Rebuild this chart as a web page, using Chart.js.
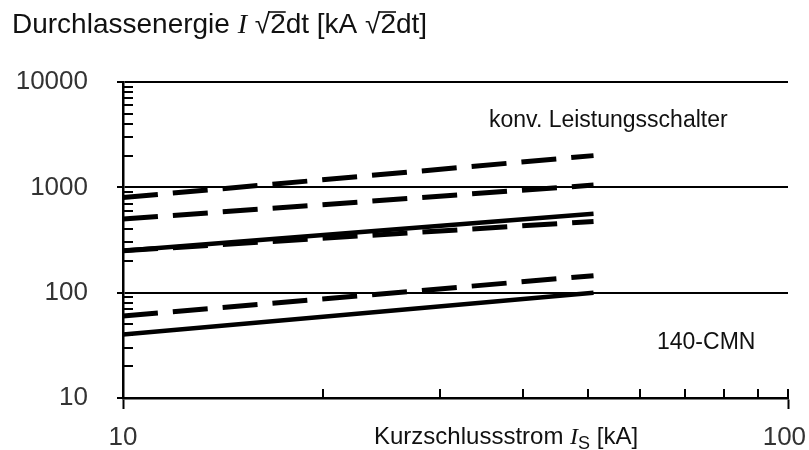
<!DOCTYPE html>
<html>
<head>
<meta charset="utf-8">
<script src="https://cdn.jsdelivr.net/npm/chart.js@4.4.1/dist/chart.umd.min.js"></script>
<style>
  html, body { margin: 0; padding: 0; background: #ffffff; }
  #wrap { width: 809px; height: 450px; position: relative; }
</style>
</head>
<body>
<div id="wrap"><canvas id="c" width="809" height="450"></canvas></div>
<script>
// ---- data ----
const currentKA   = [10, 51];          // Kurzschlussstrom I_S [kA]
const konvTop     = [800, 2000];       // konv. Leistungsschalter, dashed
const konvUpper   = [500, 1050];       // dashed
const konvSolid   = [250, 560];        // solid
const konvLower   = [250, 475];        // dashed
const cmnDashed   = [60, 145];         // 140-CMN, dashed
const cmnSolid    = [40, 100];         // 140-CMN, solid
const xMajorTicks = [10, 100];
const yMajorTicks = [10, 100, 1000, 10000];
const xMinorTicks = [20, 30, 40, 50, 60, 70, 80, 90, 100];
const yMinorTicks = [20, 30, 40, 50, 60, 70, 80, 90,
                     200, 300, 400, 500, 600, 700, 800, 900,
                     2000, 3000, 4000, 5000, 6000, 7000, 8000, 9000];
const titleText   = 'Durchlassenergie';
const xTitleText  = 'Kurzschlussstrom';
const noteKonv    = 'konv. Leistungsschalter';
const noteCmn     = '140-CMN';

const SANS = '"Liberation Sans", Arial, Helvetica, sans-serif';
const SERIF = '"Liberation Serif", "Times New Roman", serif';

function pts(ys) { return currentKA.map((x, i) => ({ x: x, y: ys[i] })); }

function lineDs(label, ys, dashed) {
  return {
    label: label,
    data: pts(ys),
    borderColor: '#000',
    backgroundColor: '#000',
    borderWidth: dashed ? 5 : 4.5,
    borderDash: dashed ? [35, 15] : [],
    borderCapStyle: 'butt',
    pointRadius: 0,
    pointHoverRadius: 0,
    fill: false,
    tension: 0
  };
}

function drawRich(ctx, parts, x, y) {
  let cx = x;
  parts.forEach(p => {
    ctx.font = p.font;
    const w = ctx.measureText(p.t).width;
    ctx.fillText(p.t, cx + (p.dx || 0), y + (p.dy || 0));
    if (p.over) {
      ctx.save();
      ctx.lineWidth = 1.6;
      ctx.strokeStyle = ctx.fillStyle;
      ctx.beginPath();
      ctx.moveTo(cx - 2, y - p.over);
      ctx.lineTo(cx + w, y - p.over);
      ctx.stroke();
      ctx.restore();
    }
    cx += w + (p.dx || 0);
  });
}

const decorPlugin = {
  id: 'decor',
  beforeDatasetsDraw(chart) {
    const ctx = chart.ctx;
    const xs = chart.scales.x, ys = chart.scales.y;
    const a = chart.chartArea;
    ctx.save();
    ctx.strokeStyle = '#000';
    ctx.lineWidth = 2;
    ctx.beginPath();
    yMinorTicks.forEach(v => {
      const py = Math.round(ys.getPixelForValue(v));
      ctx.moveTo(a.left, py);
      ctx.lineTo(a.left + 10, py);
    });
    xMinorTicks.forEach(v => {
      const px = Math.round(xs.getPixelForValue(v));
      ctx.moveTo(px, a.bottom);
      ctx.lineTo(px, a.bottom - 9);
    });
    ctx.stroke();
    ctx.restore();
  },
  afterDraw(chart) {
    const ctx = chart.ctx;
    ctx.save();
    ctx.fillStyle = '#111';
    ctx.textBaseline = 'alphabetic';
    ctx.textAlign = 'left';
    const f28 = '28px ' + SANS;
    drawRich(ctx, [
      { t: titleText + ' ', font: f28 },
      { t: 'I', font: 'italic 28px ' + SERIF },
      { t: ' \u221A', font: f28 },
      { t: '2', font: f28, over: 21 },
      { t: 'dt [kA \u221A', font: f28 },
      { t: '2', font: f28, over: 21 },
      { t: 'dt]', font: f28 }
    ], 12, 33);

    const f24 = '24px ' + SANS;
    drawRich(ctx, [
      { t: xTitleText + ' ', font: f24 },
      { t: 'I', font: 'italic 24px ' + SERIF },
      { t: 'S', font: '18px ' + SANS, dy: 5 },
      { t: ' [kA]', font: f24 }
    ], 374, 444);

    ctx.font = '23px ' + SANS;
    ctx.fillText(noteKonv, 489, 127);
    ctx.fillText(noteCmn, 657, 349);
    ctx.restore();
  }
};

new Chart(document.getElementById('c'), {
  type: 'line',
  data: {
    datasets: [
      lineDs('konv. Leistungsschalter (max)', konvTop, true),
      lineDs('konv. Leistungsschalter', konvUpper, true),
      lineDs('konv. Leistungsschalter (typ.)', konvSolid, false),
      lineDs('konv. Leistungsschalter (min)', konvLower, true),
      lineDs('140-CMN (max)', cmnDashed, true),
      lineDs('140-CMN', cmnSolid, false)
    ]
  },
  options: {
    responsive: false,
    devicePixelRatio: 1,
    animation: false,
    layout: { padding: { left: 16, right: 21, top: 82, bottom: 0 } },
    plugins: { legend: { display: false }, tooltip: { enabled: false }, title: { display: false } },
    scales: {
      x: {
        type: 'logarithmic',
        min: 10, max: 100,
        afterBuildTicks(scale) { scale.ticks = xMajorTicks.map(v => ({ value: v })); },
        afterFit(scale) { scale.height = 52; scale.paddingRight = 0; scale.paddingLeft = 0; },
        ticks: {
          autoSkip: false, maxRotation: 0, minRotation: 0,
          padding: 16,
          color: '#333',
          font: { family: SANS, size: 26, lineHeight: 1.0 },
          callback: (v) => (v === 100 ? '100 ' : String(v))
        },
        grid: { drawOnChartArea: false, drawTicks: true, tickLength: 11, tickColor: '#000', tickWidth: 2 },
        border: { display: true, color: '#000', width: 2.5 }
      },
      y: {
        type: 'logarithmic',
        min: 10, max: 10000,
        afterBuildTicks(scale) { scale.ticks = yMajorTicks.map(v => ({ value: v })); },
        afterFit(scale) { scale.width = 107; },
        ticks: {
          autoSkip: false,
          padding: 29,
          color: '#333',
          font: { family: SANS, size: 26 },
          callback: (v) => String(v)
        },
        grid: { color: '#000', lineWidth: 2, drawTicks: true, tickLength: 6, tickColor: '#000', tickWidth: 2 },
        border: { display: true, color: '#000', width: 2.5 }
      }
    }
  },
  plugins: [decorPlugin]
});
</script>
</body>
</html>
